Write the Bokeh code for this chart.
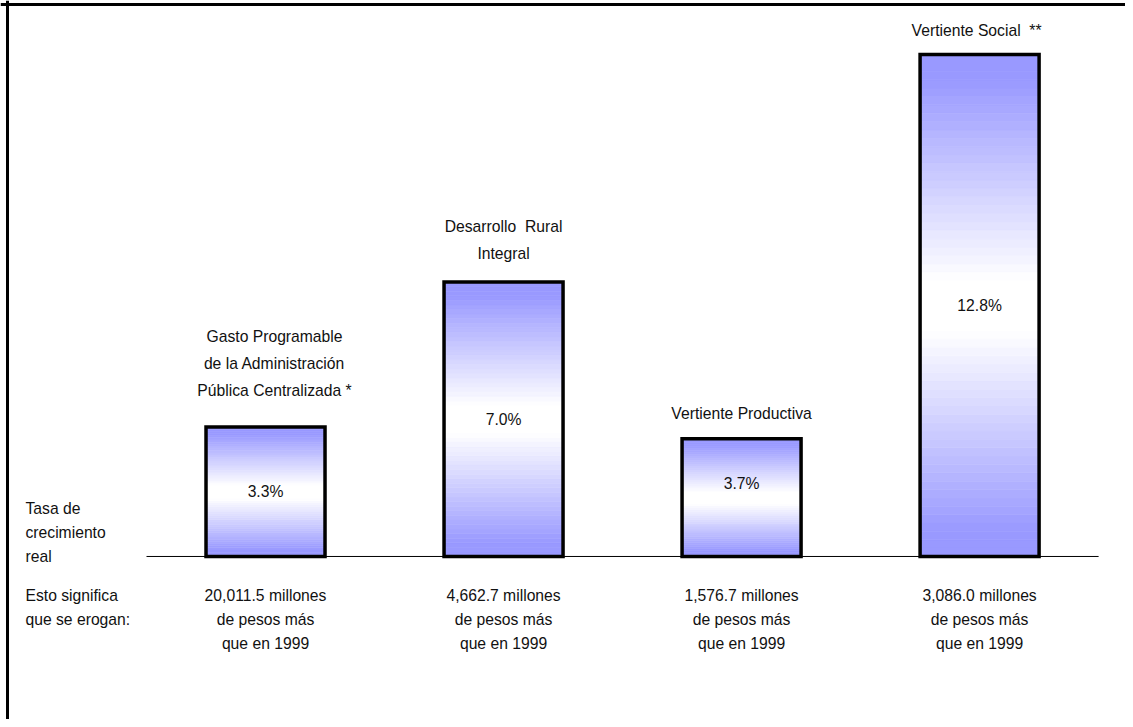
from bokeh.plotting import figure
from bokeh.models import Range1d, Span
from bokeh.core.properties import value
from bokeh.embed import file_html
from bokeh.resources import INLINE

# ---------------- data ----------------
categories = [
    ["Gasto Programable", "de la Administración", "Pública Centralizada *"],
    ["Desarrollo\u00a0 Rural", "Integral"],
    ["Vertiente Productiva"],
    ["Vertiente Social\u00a0 **"],
]
growth_pct = [3.3, 7.0, 3.7, 12.8]          # tasa de crecimiento real (%)
bar_heights = [3.3, 7.0, 3.0, 12.8]         # heights as drawn in the picture
pct_labels = ["3.3%", "7.0%", "3.7%", "12.8%"]
extra_spend = ["20,011.5", "4,662.7", "1,576.7", "3,086.0"]  # millones de pesos
left_top = ["Tasa de", "crecimiento", "real"]
left_bottom = ["Esto significa", "que se erogan:"]

positions = [1, 2, 3, 4]

FONT = value("Liberation Sans")
FS = "15.7px"
BLUE = (153, 153, 255)

p = figure(width=1125, height=719,
           x_range=Range1d(-0.1134, 4.613), y_range=Range1d(-4.158, 14.18),
           output_backend="svg", toolbar_location=None, min_border=0,
           x_axis_location=None, y_axis_location=None)
p.grid.visible = False
p.outline_line_color = None
p.background_fill_color = "white"
p.border_fill_color = "white"

# frame lines (left and top)
p.add_layout(Span(location=7, dimension="height", location_units="canvas",
                  line_color="black", line_width=3))
p.add_layout(Span(location=4, dimension="width", location_units="canvas",
                  line_color="black", line_width=3))

# baseline
p.segment(x0=[min(positions) - 0.5], y0=[0], x1=[max(positions) + 0.5], y1=[0],
          line_color="black", line_width=1)

# gradient-filled bars (stacked slices)
n = 60
xs, bots, tops, cols = [], [], [], []
for x, h in zip(positions, bar_heights):
    for i in range(n):
        f = (i + 0.5) / n
        t = abs(f - 0.5) * 2
        m = min(max((t - 0.1) / 0.8, 0.0), 1.0)
        r = round(255 + (BLUE[0] - 255) * m)
        g = round(255 + (BLUE[1] - 255) * m)
        b = round(255 + (BLUE[2] - 255) * m)
        xs.append(x)
        bots.append(h * i / n)
        tops.append(h * (i + 1) / n)
        cols.append("#%02x%02x%02x" % (r, g, b))
p.vbar(x=xs, bottom=bots, top=tops, width=0.5, fill_color=cols,
       line_color=cols, line_width=0.6)
p.vbar(x=positions, top=bar_heights, width=0.5, fill_color=None,
       line_color="black", line_width=3.5, line_join="miter")

# percentage labels in the middle of each bar
p.text(x=positions, y=[v / 2 for v in growth_pct], text=pct_labels,
       text_font=FONT, text_font_size=FS, text_align="center",
       text_baseline="middle", text_color="#111111")

# category labels above bars
gaps = [-37, -29, -25, -24]
xoffs = [9, 0, 0, -3]
cx, cy, ct, coff, cxo = [], [], [], [], []
for x, h, lines, gap, xo in zip(positions, bar_heights, categories, gaps, xoffs):
    k = len(lines)
    for j, line in enumerate(lines):
        cx.append(x)
        cy.append(h)
        ct.append(line)
        coff.append(gap - 27 * (k - 1 - j))
        cxo.append(xo)
p.text(x=cx, y=cy, text=ct, y_offset=coff, x_offset=cxo,
       text_font=FONT, text_font_size=FS, text_align="center",
       text_baseline="middle", text_color="#111111")

# bottom explanatory text
bx, by, bt, boff = [], [], [], []
for x, amt in zip(positions, extra_spend):
    for j, line in enumerate([amt + " millones", "de pesos más", "que en 1999"]):
        bx.append(x)
        by.append(0)
        bt.append(line)
        boff.append(39 + 24 * j)
p.text(x=bx, y=by, text=bt, y_offset=boff,
       text_font=FONT, text_font_size=FS, text_align="center",
       text_baseline="middle", text_color="#111111")

# left side labels
lx = [0] * (len(left_top) + len(left_bottom))
ly = [0] * len(lx)
lt = left_top + left_bottom
loff = [-48, -24, 0, 39, 63]
p.text(x=lx, y=ly, text=lt, y_offset=loff, x_offset=-2,
       text_font=FONT, text_font_size=FS, text_align="left",
       text_baseline="middle", text_color="#111111")

open("out.html", "w").write(file_html(p, INLINE))
